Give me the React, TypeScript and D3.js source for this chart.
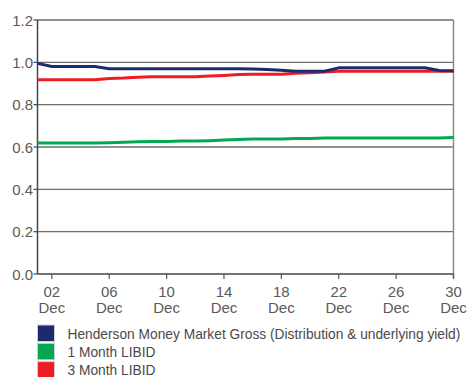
import React from "react";
import * as d3 from "d3";

// Daily yields (%) for December, days 1..30
const days = d3.range(1, 31);
const hendersonGross = [
  0.995, 0.98, 0.98, 0.98, 0.98, 0.97, 0.97, 0.97, 0.97, 0.97,
  0.97, 0.97, 0.97, 0.97, 0.97, 0.968, 0.966, 0.963, 0.958, 0.958,
  0.958, 0.974, 0.974, 0.974, 0.974, 0.974, 0.974, 0.974, 0.962, 0.96,
];
const libid1m = [
  0.619, 0.619, 0.619, 0.619, 0.619, 0.62, 0.622, 0.625, 0.626, 0.626,
  0.628, 0.628, 0.63, 0.633, 0.636, 0.638, 0.638, 0.638, 0.64, 0.64,
  0.642, 0.642, 0.642, 0.642, 0.642, 0.642, 0.642, 0.642, 0.643, 0.645,
];
const libid3m = [
  0.918, 0.918, 0.918, 0.918, 0.918, 0.924, 0.926, 0.93, 0.932, 0.932,
  0.932, 0.932, 0.935, 0.938, 0.942, 0.944, 0.944, 0.944, 0.948, 0.951,
  0.954, 0.958, 0.958, 0.958, 0.958, 0.958, 0.958, 0.958, 0.958, 0.958,
];
const xTickDays = [2, 6, 10, 14, 18, 22, 26, 30];
const yTicks = [0, 0.2, 0.4, 0.6, 0.8, 1.0, 1.2];

const seriesList = [
  { name: "Henderson Money Market Gross (Distribution & underlying yield)", values: hendersonGross, color: "#1c2b6c" },
  { name: "1 Month LIBID", values: libid1m, color: "#00a94f" },
  { name: "3 Month LIBID", values: libid3m, color: "#ee1d25" },
];
// draw order: green, red, blue on top
const drawOrder = [1, 2, 0];

const W = 470;
const H = 377;
const left = 37.5;
const right = 453.5;
const top = 20;
const bottom = 274;

export default function App() {
  const x = d3.scaleLinear().domain([1, 30]).range([left, right]);
  const y = d3.scaleLinear().domain([0, 1.2]).range([bottom, top]);
  const line = d3
    .line<number>()
    .x((_, i) => x(days[i]))
    .y((v) => y(v));
  const font = "'Liberation Sans', Arial, sans-serif";

  return (
    <svg
      width={W}
      height={H}
      style={{ position: "absolute", left: 0, top: 0, background: "#fff" }}
      fontFamily={font}
    >
      {/* horizontal gridlines and y ticks */}
      {yTicks.map((t) => (
        <g key={t}>
          {t > 0 && (
            <line x1={left} x2={right} y1={y(t)} y2={y(t)} stroke="#6e6e6e" strokeWidth={1.3} />
          )}
          <line x1={left - 4} x2={left} y1={y(t)} y2={y(t)} stroke="#555" strokeWidth={1.3} />
          <text x={33} y={y(t) + 5.5} textAnchor="end" fontSize={15} fill="#5a5a5a">
            {t.toFixed(1)}
          </text>
        </g>
      ))}
      {/* right border */}
      <line x1={right} x2={right} y1={top} y2={bottom + 4} stroke="#8a8a8a" strokeWidth={1.5} />
      {/* axes */}
      <line x1={left} x2={left} y1={top} y2={bottom} stroke="#444" strokeWidth={1.5} />
      <line x1={left} x2={right} y1={bottom} y2={bottom} stroke="#444" strokeWidth={1.5} />
      {xTickDays.map((d) => (
        <g key={d}>
          <line x1={x(d)} x2={x(d)} y1={bottom} y2={bottom + 5} stroke="#555" strokeWidth={1.2} />
          <text x={x(d)} y={296.5} textAnchor="middle" fontSize={15} fill="#5a5a5a">
            {String(d).padStart(2, "0")}
          </text>
          <text x={x(d)} y={313} textAnchor="middle" fontSize={15} fill="#5a5a5a">
            Dec
          </text>
        </g>
      ))}
      {/* series lines */}
      {drawOrder.map((i) => (
        <path
          key={seriesList[i].name}
          d={line(seriesList[i].values) || ""}
          fill="none"
          stroke={seriesList[i].color}
          strokeWidth={3}
          strokeLinejoin="round"
        />
      ))}
      {/* legend */}
      {seriesList.map((s, i) => (
        <g key={s.name} transform={`translate(37.5, ${325 + i * 18.3})`}>
          <rect width={17} height={16.5} fill={s.color} stroke="#d0d0d0" strokeWidth={1} />
          <text x={30} y={13.5} fontSize={13.75} fill="#4a4a4a">
            {s.name}
          </text>
        </g>
      ))}
    </svg>
  );
}
